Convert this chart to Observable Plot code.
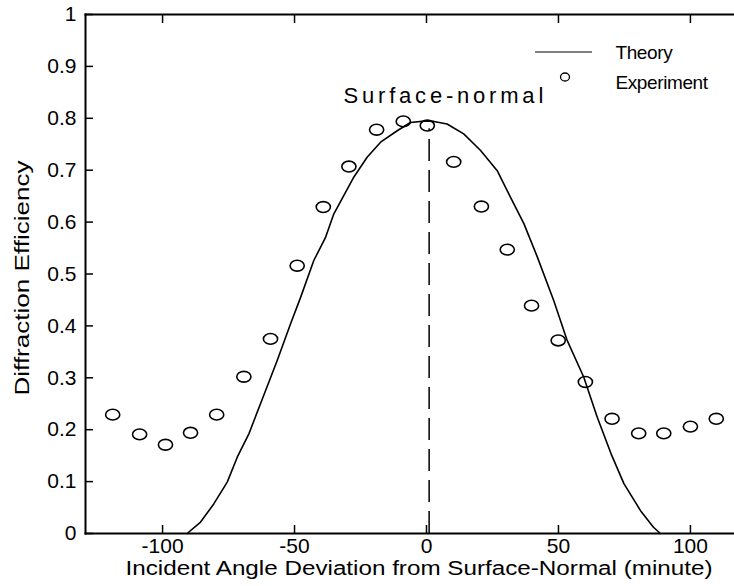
<!DOCTYPE html>
<html><head><meta charset="utf-8">
<script src="https://cdn.jsdelivr.net/npm/d3@7"></script>
<script src="https://cdn.jsdelivr.net/npm/@observablehq/plot@0.6"></script>
<style>body{margin:0;background:#fff;font-family:"Liberation Sans",Arial,sans-serif}</style>
</head><body><div id="chart"></div>
<script>
// Experiment points
const expX = [-118.9, -108.7, -98.9, -89.4, -79.5, -69.2, -59.1, -49.0, -39.1, -29.4, -18.9, -8.8, 0.3, 10.3, 20.8, 30.6, 39.8, 49.9, 60.2, 70.3, 80.4, 89.9, 100.0, 109.8];
const expY = [0.229, 0.191, 0.171, 0.194, 0.229, 0.302, 0.375, 0.516, 0.629, 0.707, 0.778, 0.794, 0.786, 0.716, 0.630, 0.547, 0.439, 0.372, 0.292, 0.221, 0.193, 0.193, 0.206, 0.221];
// Theory curve
const theoryX = [-90.7, -85.6, -80.6, -75.5, -71.7, -67.3, -62.9, -56.6, -51.5, -47.7, -42.7, -38.3, -35.1, -27.5, -22.5, -17.4, -11.1, -6.1, 0, 2.8, 7.8, 14.1, 20.5, 26.8, 31.8, 36.9, 41.9, 48.2, 53.3, 59.6, 64.7, 69.9, 74.8, 81.1, 86.0, 88.6];
const theoryY = [0, 0.022, 0.057, 0.099, 0.147, 0.192, 0.250, 0.333, 0.404, 0.455, 0.526, 0.570, 0.616, 0.687, 0.725, 0.754, 0.776, 0.792, 0.795, 0.794, 0.789, 0.770, 0.738, 0.699, 0.648, 0.597, 0.534, 0.449, 0.372, 0.301, 0.224, 0.154, 0.096, 0.044, 0.012, 0];
const xTicks = [-100, -50, 0, 50, 100];
const yTicks = [0, 0.1, 0.2, 0.3, 0.4, 0.5, 0.6, 0.7, 0.8, 0.9, 1];
const surfaceNormalX = [1];
const surfaceNormalTop = 0.78;
const labels = {x: "Incident Angle Deviation from Surface-Normal (minute)", y: "Diffraction Efficiency", marker: "Surface-normal", theory: "Theory", experiment: "Experiment"};

const exp = expX.map((x, i) => ({x, y: expY[i]}));
const theory = theoryX.map((x, i) => ({x, y: theoryY[i]}));

const ellipse = {draw(ctx, size) {
  const r = Math.sqrt(size / Math.PI), rx = r * 1.18, ry = r * 0.9, k = 0.5523;
  ctx.moveTo(rx, 0);
  ctx.bezierCurveTo(rx, ry * k, rx * k, ry, 0, ry);
  ctx.bezierCurveTo(-rx * k, ry, -rx, ry * k, -rx, 0);
  ctx.bezierCurveTo(-rx, -ry * k, -rx * k, -ry, 0, -ry);
  ctx.bezierCurveTo(rx * k, -ry, rx, -ry * k, rx, 0);
  ctx.closePath();
}};

const font = '"Liberation Sans", Arial, sans-serif';

const legend = (index, scales, values, dims) => {
  const g = d3.create("svg:g");
  g.append("line").attr("x1", 535).attr("x2", 592).attr("y1", 52).attr("y2", 52)
    .attr("stroke", "black").attr("stroke-width", 1.2);
  g.append("ellipse").attr("cx", 565).attr("cy", 77).attr("rx", 4.5).attr("ry", 4)
    .attr("fill", "none").attr("stroke", "black").attr("stroke-width", 1.3);
  return g.node();
};

const chart = Plot.plot({
  width: 734, height: 586,
  marginLeft: 85, marginRight: 0, marginTop: 14, marginBottom: 53,
  style: {fontFamily: font, background: "white", color: "black"},
  x: {domain: [-129.2, 116.7]},
  y: {domain: [0, 1]},
  marks: [
    Plot.frame({anchor: "left", strokeWidth: 2}),
    Plot.frame({anchor: "bottom", strokeWidth: 2}),
    Plot.frame({anchor: "top", strokeWidth: 2}),
    Plot.axisX(xTicks, {anchor: "bottom", tickSize: -8, tickFormat: () => "", strokeWidth: 1.5, label: null}),
    Plot.axisX(xTicks, {anchor: "top", tickSize: -8, tickFormat: () => "", strokeWidth: 1.5, label: null}),
    Plot.axisX(xTicks, {anchor: "bottom", tickSize: 0, tickPadding: 5, fontSize: 21, tickFormat: d => String(d), label: null}),
    Plot.axisY(yTicks, {anchor: "left", tickSize: -8, tickFormat: () => "", strokeWidth: 1.5, label: null}),
    Plot.axisY(yTicks, {anchor: "left", tickSize: 0, tickPadding: 9, fontSize: 21, tickFormat: d => String(d), label: null}),
    Plot.text([labels.x], {frameAnchor: "bottom", textAnchor: "middle", lineAnchor: "middle", dx: 9, dy: 35, fontSize: 20, text: d => d}),
    Plot.text([labels.y], {frameAnchor: "left", textAnchor: "middle", lineAnchor: "middle", rotate: -90, dx: -63, dy: 4, fontSize: 20, text: d => d}),
    Plot.ruleX(surfaceNormalX, {y1: 0, y2: surfaceNormalTop, strokeWidth: 1.5, strokeDasharray: "22,9"}),
    Plot.line(theory, {x: "x", y: "y", strokeWidth: 1.6, stroke: "black"}),
    Plot.dot(exp, {x: "x", y: "y", r: 6, symbol: ellipse, stroke: "black", strokeWidth: 1.6, fill: "none"}),
    Plot.text([labels.marker], {frameAnchor: "top-left", textAnchor: "start", lineAnchor: "middle", dx: 258, dy: 81, fontSize: 22, text: d => d}),
    Plot.text([labels.theory], {frameAnchor: "top-left", textAnchor: "start", lineAnchor: "middle", dx: 530, dy: 38, fontSize: 19, text: d => d}),
    Plot.text([labels.experiment], {frameAnchor: "top-left", textAnchor: "start", lineAnchor: "middle", dx: 530, dy: 68, fontSize: 19, text: d => d}),
    legend
  ]
});
chart.querySelectorAll("text").forEach(t => {
  const s = t.textContent;
  if (s === labels.marker) t.setAttribute("letter-spacing", "3.8");
  if (s === labels.theory || s === labels.experiment) t.setAttribute("letter-spacing", "-0.4");
  if (s === labels.x) { t.setAttribute("textLength", 587); t.setAttribute("lengthAdjust", "spacingAndGlyphs"); }
  if (s === labels.y) { t.setAttribute("textLength", 235); t.setAttribute("lengthAdjust", "spacingAndGlyphs"); }
});
document.getElementById("chart").append(chart);
</script>
</body></html>
